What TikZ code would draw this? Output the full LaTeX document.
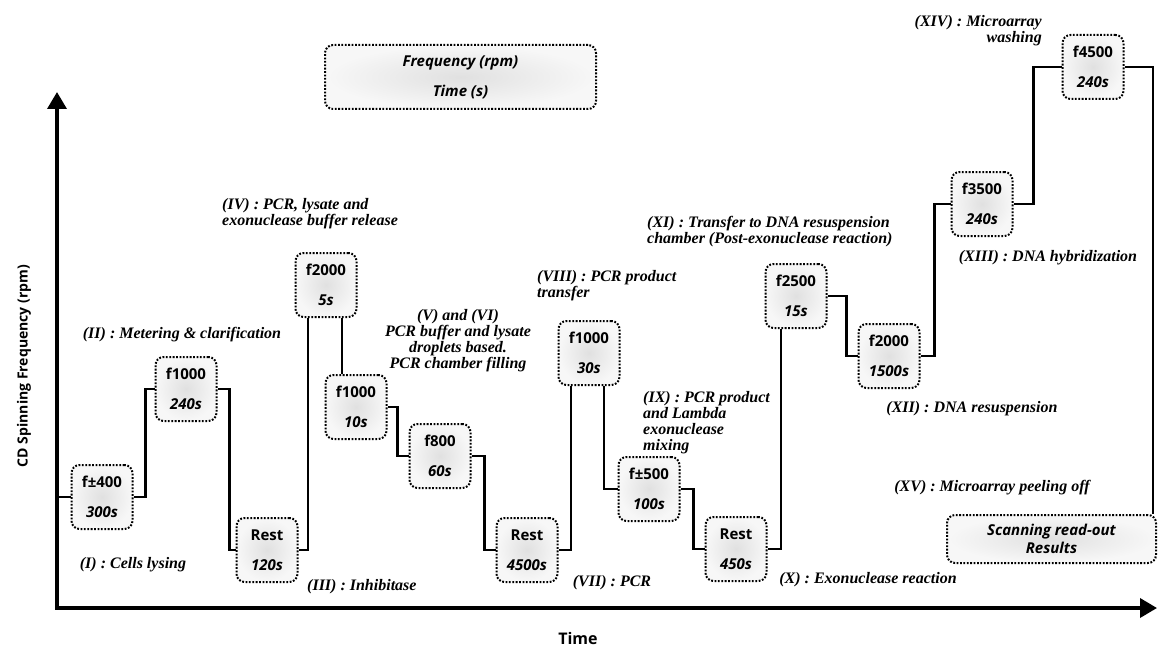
\documentclass[tikz,border=0pt]{standalone}
\usepackage{fontspec}
\setmainfont{Liberation Serif}
\setsansfont{Open Sans}
\usetikzlibrary{arrows.meta}
\begin{document}
\begin{tikzpicture}[x=1pt,y=-1pt,
    box/.style={draw,dash pattern=on 1.8pt off 1.6pt,line width=2pt,rounded corners=8pt,
        inner color=gray!24,outer color=gray!6,minimum width=61pt,minimum height=64pt,
        inner sep=0pt,align=center,font=\sffamily\bfseries\fontsize{15}{30}\selectfont},
    lab/.style={inner sep=0pt,font=\bfseries\itshape\fontsize{16}{16}\selectfont},
    line/.style={line width=2.2pt},
    axis/.style={line width=3.6pt,{Triangle[width=19pt,length=17pt]}-{Triangle[width=19pt,length=17pt]}}]
    \useasboundingbox (0,0) rectangle (1158,650);
    \coordinate (O) at (57,608);
    \coordinate (Y) at (57,92);
    \coordinate (X) at (1157,608);
    \draw[axis] (Y)--(O)--(X);
    \node[font=\sffamily\bfseries\fontsize{14}{16}\selectfont,rotate=90] (ylab) at (24,366) {CD Spinning Frequency (rpm)};
    \node[font=\sffamily\bfseries\fontsize{16}{20}\selectfont,anchor=north,inner sep=0pt] (xlab) at (578,632) {Time};
    % cac buoc quay
    \path
    (102,497) node[box] (A) {f±400\\\textit{300s}}
    ++(84,-108) node[box] (B) {f1000\\\textit{240s}}
    ++(81,161) node[box] (C) {Rest\\\textit{120s}}
    ++(59,-265) node[box] (D) {f2000\\\textit{5s}}
    ++(30,122) node[box] (E) {f1000\\\textit{10s}}
    ++(84,49) node[box] (F) {f800\\\textit{60s}}
    ++(87,94) node[box] (G) {Rest\\\textit{4500s}}
    ++(62,-197) node[box] (H) {f1000\\\textit{30s}}
    ++(60,136) node[box] (I) {f±500\\\textit{100s}}
    ++(87,60) node[box] (J) {Rest\\\textit{450s}}
    ++(60,-253) node[box] (K) {f2500\\\textit{15s}}
    ++(93,60) node[box] (L) {f2000\\\textit{1500s}}
    ++(93,-152) node[box] (M) {f3500\\\textit{240s}}
    ++(111,-137) node[box] (N) {f4500\\\textit{240s}};
    \node[box,minimum width=271pt,font=\sffamily\bfseries\itshape\fontsize{15}{30}\selectfont] (T) at (460.5,77) {Frequency (rpm)\\Time (s)};
    \node[box,minimum width=209pt,minimum height=48pt,font=\sffamily\bfseries\itshape\fontsize{15}{18}\selectfont] (R) at (1051.5,539) {Scanning read-out\\Results};
    % noi cac buoc
    \draw[line] (A.west)--(A.west -| O);
    \draw[line] (A.east)--++(12,0) |- (B.west);
    \draw[line] (B.east)--++(12,0) |- (C.west);
    \draw[line] (C.east) -| ([xshift=-18pt]D.south);
    \draw[line] ([xshift=16pt]D.south)--([xshift=16pt]D.south |- E.north);
    \draw[line] (E.east)--++(10,0) |- (F.west);
    \draw[line] (F.east)--++(13,0) |- (G.west);
    \draw[line] (G.east) -| ([xshift=-18pt]H.south);
    \draw[line] ([xshift=15pt]H.south) |- (I.west);
    \draw[line] (I.east)--++(13,0) |- (J.west);
    \draw[line] (J.east) -| ([xshift=-15pt]K.south);
    \draw[line] (K.east)--++(19,0) |- (L.west);
    \draw[line] (L.east)--++(14,0) |- (M.west);
    \draw[line] (M.east)--++(20,0) |- (N.west);
    \draw[line] (N.east) -| ([xshift=-4pt]R.north east);
    % nhan cac giai doan
    \path
    (133,565) node[lab] (l1) {(I) : Cells lysing}
    (182,335) node[lab] (l2) {(II) : Metering \& clarification}
    (307,587) node[lab,anchor=west] (l3) {(III) : Inhibitase}
    (222,214) node[lab,anchor=west,align=left] (l4) {(IV) : PCR, lysate and\\exonuclease buffer release}
    (458,341) node[lab,align=center] (l5) {(V) and (VI)\\PCR buffer and lysate\\droplets based.\\PCR chamber filling}
    (612,583) node[lab] (l6) {(VII) : PCR}
    (537,286) node[lab,anchor=west,align=left] (l7) {(VIII) : PCR product\\transfer}
    (643,423) node[lab,anchor=west,align=left] (l8) {(IX) : PCR product\\and Lambda\\exonuclease\\mixing}
    (868,580) node[lab] (l9) {(X) : Exonuclease reaction}
    (647,232) node[lab,anchor=west,align=left] (l10) {(XI) : Transfer to DNA resuspension\\chamber (Post-exonuclease reaction)}
    (972,409) node[lab] (l11) {(XII) : DNA resuspension}
    (1048,258) node[lab] (l12) {(XIII) : DNA hybridization}
    (1042,31) node[lab,anchor=east,align=right] (l13) {(XIV) : Microarray\\washing}
    (992,488) node[lab] (l14) {(XV) : Microarray peeling off};
\end{tikzpicture}
\end{document}
